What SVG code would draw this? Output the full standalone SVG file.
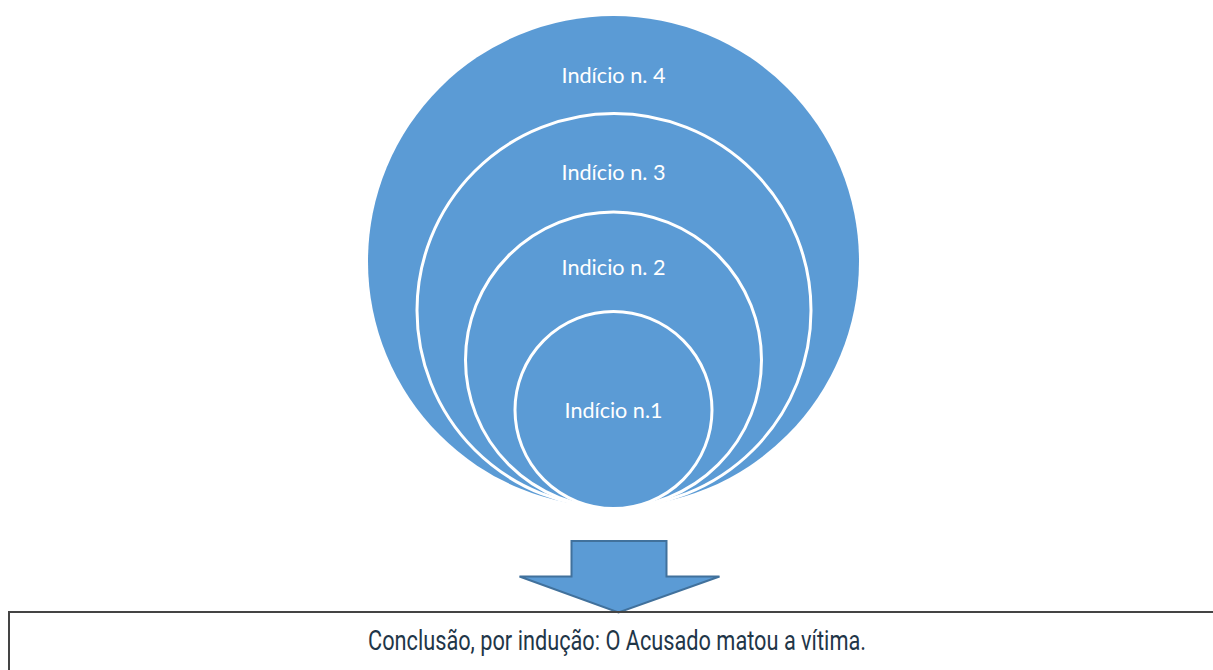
<svg xmlns="http://www.w3.org/2000/svg" width="1213" height="670" viewBox="0 0 1213 670">
<style>
.c{fill:#5b9bd5}
.ci{fill:#5b9bd5;stroke:#ffffff;stroke-width:3}
.t{font-family:Lato,"Open Sans",sans-serif;font-size:22px;fill:#ffffff;text-anchor:middle}
.b{font-family:Roboto,"Liberation Sans",sans-serif;font-size:28px;fill:#1f3648}
</style>
<rect width="1213" height="670" fill="#ffffff"/>
<g id="n4"><circle class="c" cx="613.5" cy="261.5" r="245.5"/><text class="t" x="613.5" y="83" textLength="104" lengthAdjust="spacingAndGlyphs">Indício n. 4</text></g>
<g id="n3"><circle class="ci" cx="614" cy="310.5" r="197"/><text class="t" x="613.5" y="180" textLength="104" lengthAdjust="spacingAndGlyphs">Indício n. 3</text></g>
<g id="n2"><circle class="ci" cx="613.5" cy="360" r="148"/><text class="t" x="613.5" y="274.5" textLength="104" lengthAdjust="spacingAndGlyphs">Indicio n. 2</text></g>
<g id="n1"><circle class="ci" cx="613.5" cy="410" r="98.5"/><text class="t" x="613.5" y="417.5" textLength="98" lengthAdjust="spacingAndGlyphs">Indício n.1</text></g>
<g id="connectors">
<polygon points="571.5,541 666.5,541 666.5,576.5 719.5,576.5 618.5,612.5 519.5,576.5 571.5,576.5" fill="#5b9bd5" stroke="#41719c" stroke-width="2" stroke-linejoin="miter"/>
</g>
<g id="conclusion">
<rect x="9" y="612" width="1220" height="70" fill="none" stroke="#444444" stroke-width="2"/>
<text class="b" x="368" y="650" textLength="498" lengthAdjust="spacingAndGlyphs">Conclusão, por indução: O Acusado matou a vítima.</text>
</g>
</svg>
